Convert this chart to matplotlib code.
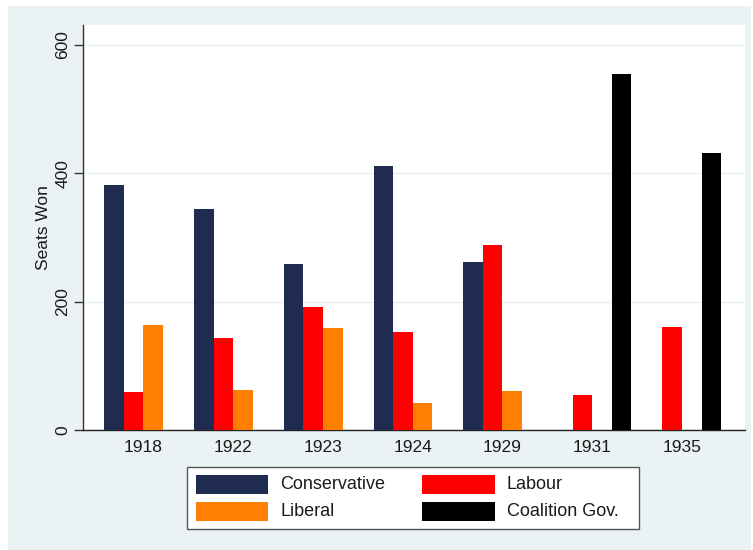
import matplotlib
matplotlib.use("Agg")
import matplotlib.pyplot as plt
from matplotlib.patches import Rectangle
import numpy as np

plt.rcParams['font.family'] = ['Liberation Sans', 'DejaVu Sans']

years = ["1918", "1922", "1923", "1924", "1929", "1931", "1935"]
parties = ["Conservative", "Labour", "Liberal", "Coalition Gov."]
conservative = [382, 345, 259, 412, 261, np.nan, np.nan]
labour = [59, 143, 191, 152, 288, 54, 160]
liberal = [164, 63, 159, 42, 61, np.nan, np.nan]
coalition = [np.nan, np.nan, np.nan, np.nan, np.nan, 555, 431]
colors = ["#1f2b4f", "#ff0000", "#ff7f00", "#000000"]

W, H = 753, 550
fig = plt.figure(figsize=(W / 100, H / 100), dpi=100)
fig.patch.set_facecolor("white")


def fx(px):
    return px / W


def fy(py):
    return 1 - py / H


# light background panel behind everything
bg = "#eaf2f3"
fig.patches.append(Rectangle((fx(8), 0), fx(751) - fx(8), fy(6), transform=fig.transFigure,
                             facecolor=bg, edgecolor="none", zorder=-10))

left, right, top, bottom = 83, 745, 25, 430
ax = fig.add_axes([fx(left), fy(bottom), fx(right) - fx(left), fy(top) - fy(bottom)])
ax.set_zorder(1)
ax.set_facecolor("white")

x = np.arange(len(years))
w = 0.2184
series = [conservative, labour, liberal, coalition]
for i, (vals, c) in enumerate(zip(series, colors)):
    ax.bar(x + (i - 1.5) * w, vals, width=w, color=c, edgecolor="none", zorder=3)

ax.set_xlim(-0.674, 6.702)
ax.set_ylim(0, 631)
ax.set_yticks([0, 200, 400, 600])
ax.yaxis.grid(True, color="#e6eff1", linewidth=1.0, zorder=0)
ax.set_axisbelow(True)

ax.set_xticks(x)
ax.set_xticklabels(years, fontsize=12.5)
ax.tick_params(axis="x", length=0, pad=7, colors="#1a1a1a")
ax.tick_params(axis="y", length=6.5, width=1, color="#333333", pad=2.5,
               labelsize=12.5, labelcolor="#1a1a1a")
for lab in ax.get_yticklabels():
    lab.set_rotation(90)
    lab.set_va("center")
ax.set_ylabel("Seats Won", fontsize=12.5, labelpad=3, color="#1a1a1a")

for s in ["top", "right"]:
    ax.spines[s].set_visible(False)
ax.spines["left"].set_color("#333333")
ax.spines["bottom"].set_color("#222222")
ax.spines["left"].set_linewidth(1)
ax.spines["bottom"].set_linewidth(1)

# legend box with two columns of keys
fig.patches.append(Rectangle((fx(187), fy(529)), fx(639) - fx(187), fy(467) - fy(529),
                             transform=fig.transFigure, facecolor="white",
                             edgecolor="#555555", linewidth=1.0, zorder=2))
key_cols = [(196, 268, 280), (422, 495, 507)]
key_rows = [(475, 494), (502, 521)]
layout = [(0, 0, 0), (1, 0, 2), (0, 1, 1), (1, 1, 3)]  # (row, col, party index)
for r, cidx, k in layout:
    x0, x1, tx = key_cols[cidx]
    y0, y1 = key_rows[r]
    fig.patches.append(Rectangle((fx(x0), fy(y1)), fx(x1) - fx(x0), fy(y0) - fy(y1),
                                 transform=fig.transFigure, facecolor=colors[k],
                                 edgecolor="none", zorder=3))
    fig.text(fx(tx), fy((y0 + y1) / 2), parties[k], fontsize=13, color="#1a1a1a",
             ha="left", va="center", zorder=4)

fig.savefig("out.png", dpi=100)
